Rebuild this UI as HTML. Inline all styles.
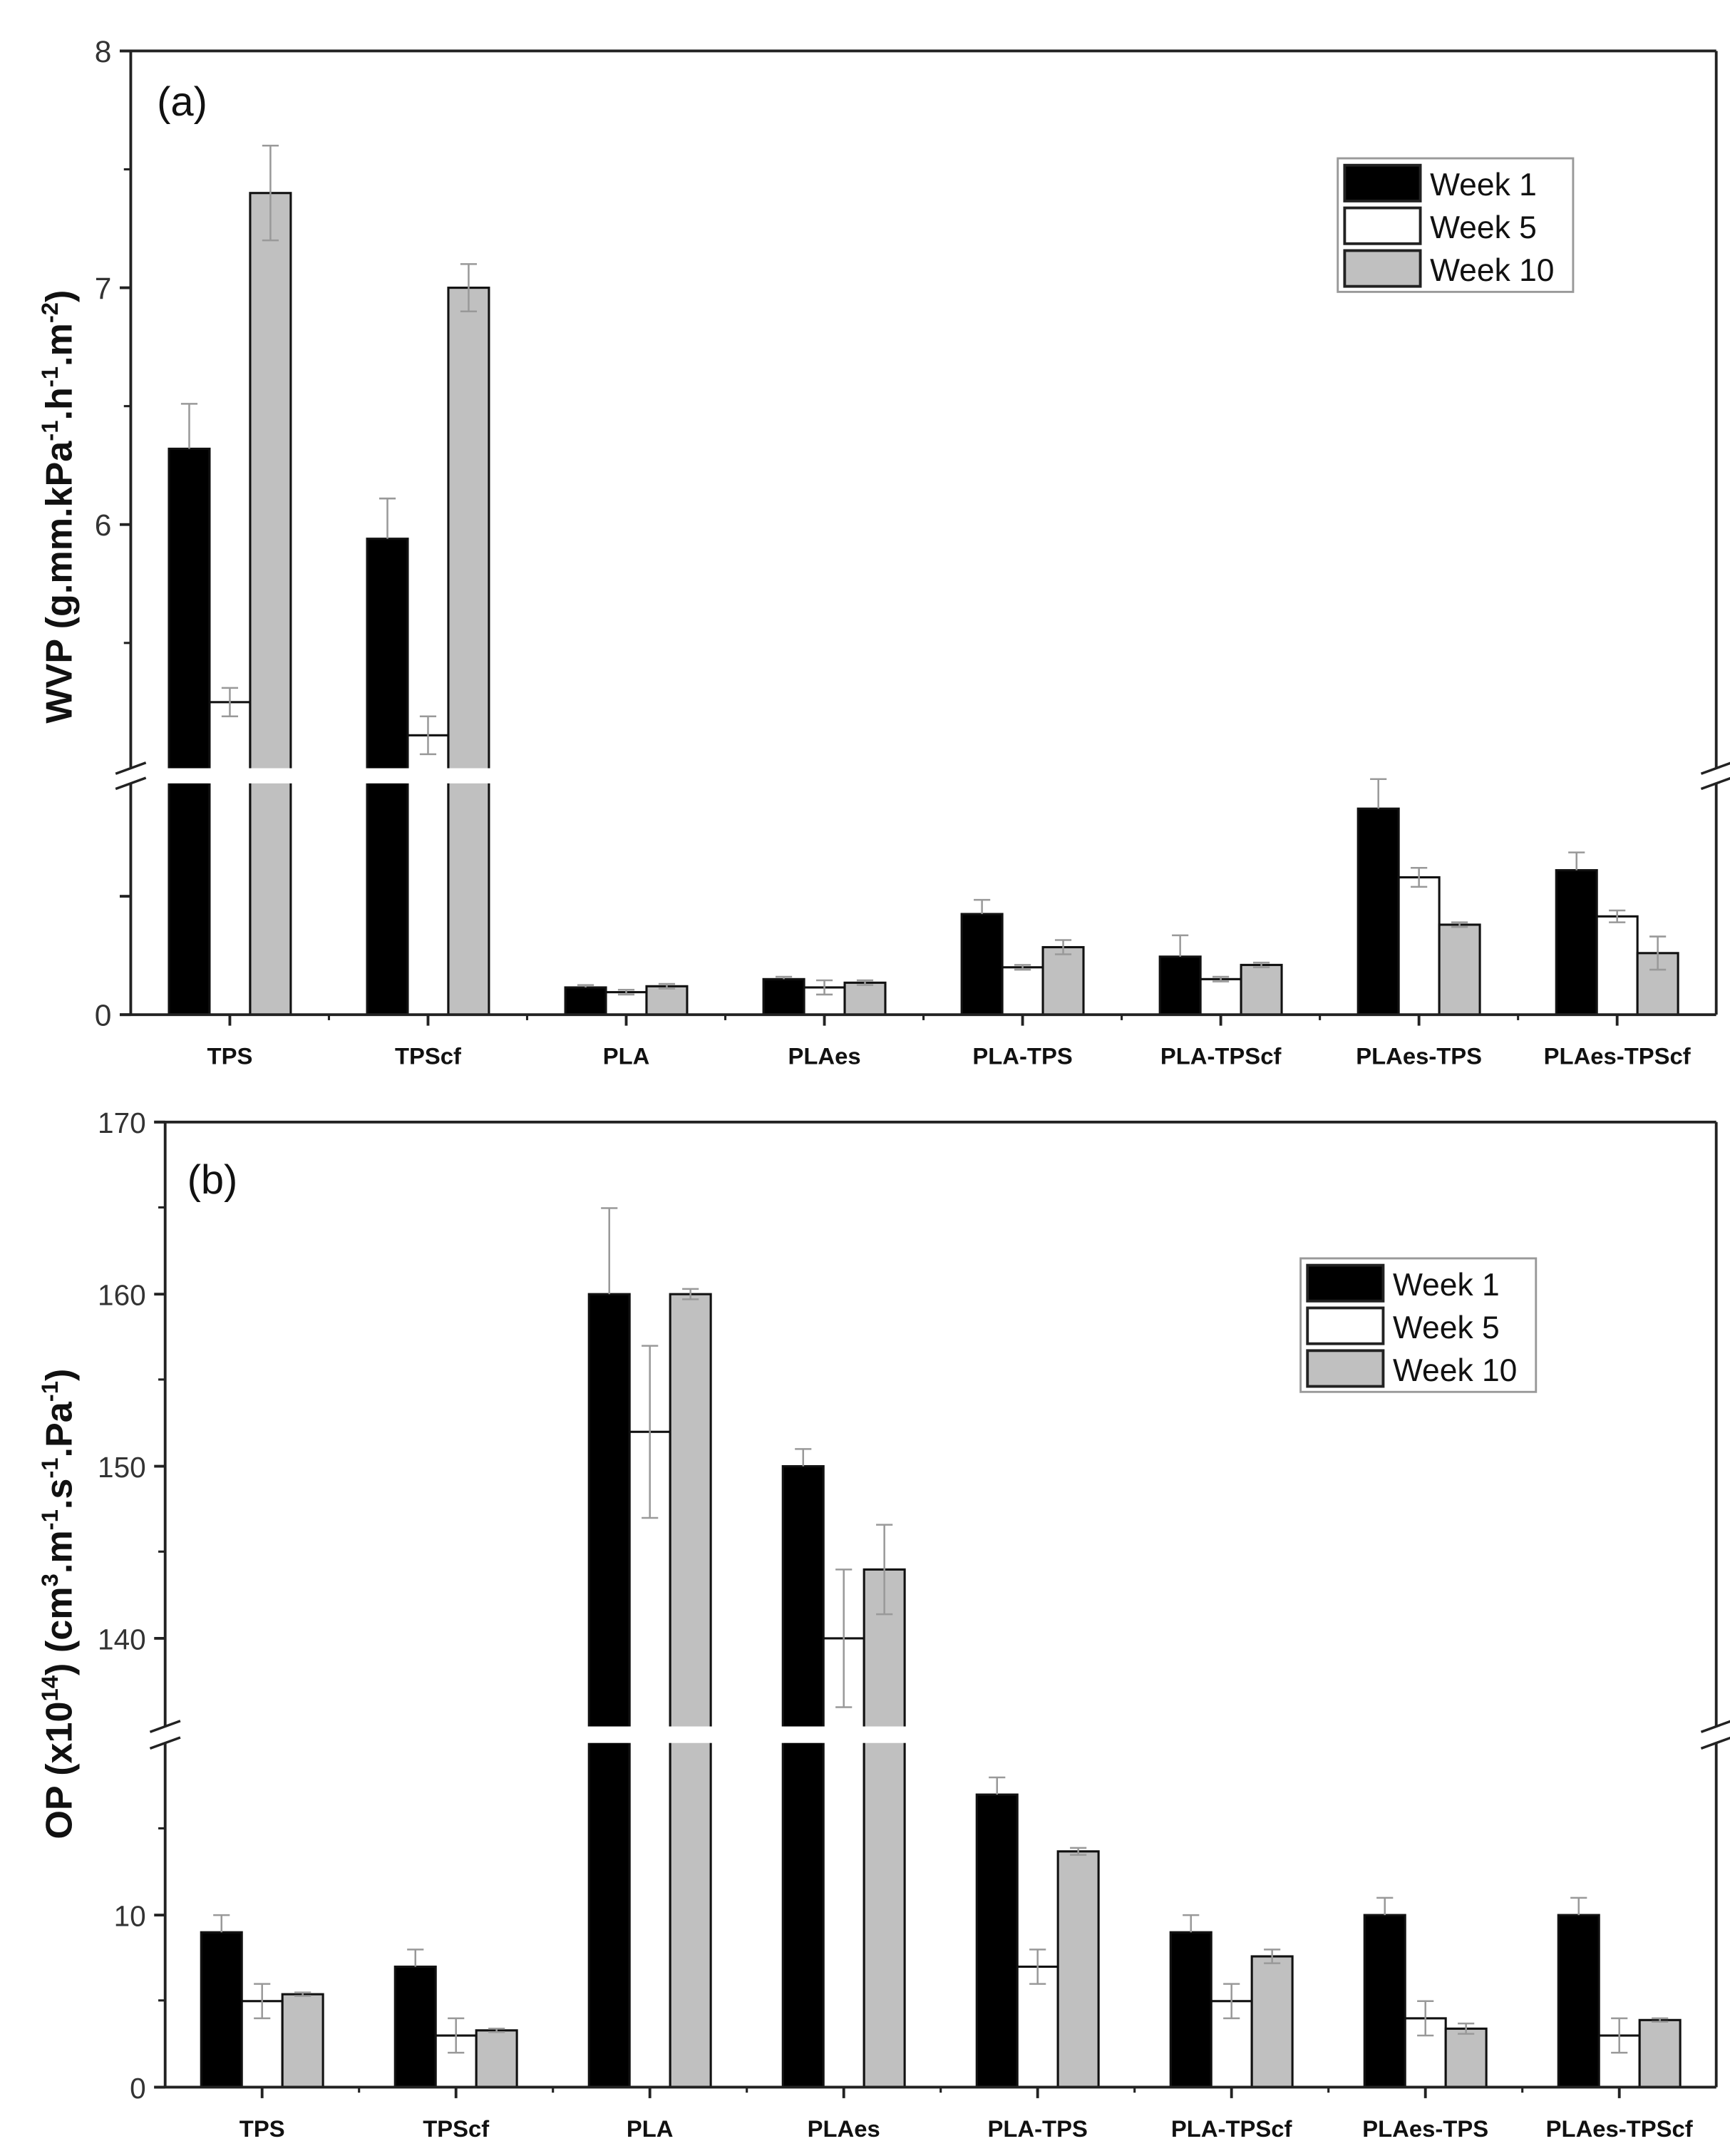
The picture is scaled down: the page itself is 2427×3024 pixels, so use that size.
<!DOCTYPE html>
<html><head><meta charset="utf-8"><style>
html,body{margin:0;padding:0;background:#fff}
svg{display:block}
text{font-family:"Liberation Sans",Arial,sans-serif}
</style></head><body>
<svg id="fig" xmlns="http://www.w3.org/2000/svg" width="2427" height="3024" viewBox="0 0 1257 1566" preserveAspectRatio="none">
</svg>
<script>
const categories=["TPS","TPScf","PLA","PLAes","PLA-TPS","PLA-TPScf","PLAes-TPS","PLAes-TPScf"];
const seriesNames=["Week 1","Week 5","Week 10"];
// Panel (a) WVP
const wvpW1=[6.32,5.94,0.23,0.30,0.85,0.49,1.74,1.22];
const wvpW5=[5.25,5.11,0.19,0.23,0.40,0.30,1.16,0.83];
const wvpW10=[7.40,7.00,0.24,0.27,0.57,0.42,0.76,0.52];
const wvpE1=[0.19,0.17,0.02,0.02,0.12,0.18,0.25,0.15];
const wvpE5=[0.06,0.08,0.02,0.06,0.02,0.02,0.08,0.05];
const wvpE10=[0.20,0.10,0.02,0.02,0.06,0.02,0.02,0.14];
const wvpTicks=["6","7","8"];
// Panel (b) OP
const opW1=[9,7,160,150,17,9,10,10];
const opW5=[5,3,152,140,7,5,4,3];
const opW10=[5.4,3.3,160,144,13.7,7.6,3.4,3.9];
const opE1=[1,1,5,1,1,1,1,1];
const opE5=[1,1,5,4,1,1,1,1];
const opE10=[0.1,0.1,0.3,2.6,0.2,0.4,0.3,0.1];
const opTicksUp=["140","150","160","170"];
const opTicksLow=["0","10"];

const NS="http://www.w3.org/2000/svg";
const svg=document.getElementById('fig');
function mk(tag,attrs,parent){const e=document.createElementNS(NS,tag);for(const k in attrs)e.setAttribute(k,attrs[k]);(parent||svg).appendChild(e);return e;}

function panel(cfg){
  const g=mk('g',{});
  
  
  const L=cfg.left,R=cfg.right,T=cfg.top,B=cfg.bottom;
  const n=categories.length,step=(R-L)/n,bw=29.5;
  const xc=i=>L+step*(i+0.5);
  const y=v=>v>cfg.lowMax? cfg.upY0-(v-cfg.upV0)*cfg.upK : B-v*cfg.lowK;
  const series=[cfg.w1,cfg.w5,cfg.w10],errs=[cfg.e1,cfg.e5,cfg.e10];
  const fills=["#000","#fff","#c0c0c0"];
  for(let s=0;s<3;s++){
    for(let i=0;i<n;i++){
      const v=series[s][i],x=xc(i)+(s-1)*bw-bw/2,yt=y(v);
      const r=mk('rect',{x:x,y:yt,width:bw,height:B-yt,fill:fills[s],stroke:"#111","stroke-width":1.6},g);
      
      
    }
  }
  const gap=mk('rect',{x:L+2,y:cfg.gapTop,width:R-L-4,height:cfg.gapBot-cfg.gapTop,fill:"#fff"},g);
  
  
  for(let s=0;s<3;s++){
    for(let i=0;i<n;i++){
      const v=series[s][i],e=errs[s][i],cx=xc(i)+(s-1)*bw;
      const y1=y(v+e),y2=s===0? y(v) : y(v-e);
      const eg=mk('g',{stroke:"#999","stroke-width":1.3},g);
      
      
      mk('line',{x1:cx,x2:cx,y1:y1,y2:y2},eg);
      mk('line',{x1:cx-6,x2:cx+6,y1:y1,y2:y1},eg);
      if(s!==0) mk('line',{x1:cx-6,x2:cx+6,y1:y2,y2:y2},eg);
    }
  }
  const fr=mk('g',{stroke:"#222","stroke-width":2,fill:"none"},g);
  
  
  mk('line',{x1:L-8,x2:R,y1:T,y2:T},fr);
  mk('line',{x1:L-8,x2:R,y1:B,y2:B},fr);
  mk('line',{x1:L,x2:L,y1:T,y2:cfg.gapTop},fr);
  mk('line',{x1:L,x2:L,y1:cfg.gapBot,y2:B},fr);
  mk('line',{x1:R,x2:R,y1:T,y2:cfg.gapTop},fr);
  mk('line',{x1:R,x2:R,y1:cfg.gapBot,y2:B},fr);
  [L,R].forEach(ax=>{
    const bm=mk('g',{stroke:"#222","stroke-width":1.8},g);
    
    
    mk('line',{x1:ax-11,x2:ax+11,y1:cfg.gapTop+4,y2:cfg.gapTop-4},bm);
    mk('line',{x1:ax-11,x2:ax+11,y1:cfg.gapBot+4,y2:cfg.gapBot-4},bm);
  });
  cfg.yticks.forEach(t=>{
    const v=parseFloat(t.label),yy=t.low? B-v*cfg.lowK : cfg.upY0-(v-cfg.upV0)*cfg.upK;
    mk('line',{x1:L-8,x2:L,y1:yy,y2:yy,stroke:"#222","stroke-width":2},g);
    if(t.show){
      const tx=mk('text',{x:L-14,y:yy+8,"text-anchor":"end","font-size":cfg.tickFs,fill:"#333"},g);
      tx.textContent=t.label;
      
      
    }
  });
  cfg.minor.forEach(yy=>mk('line',{x1:L-5,x2:L,y1:yy,y2:yy,stroke:"#222","stroke-width":1.6},g));
  for(let i=0;i<n;i++){
    mk('line',{x1:xc(i),x2:xc(i),y1:B,y2:B+8,stroke:"#222","stroke-width":2},g);
    if(i>0) mk('line',{x1:L+step*i,x2:L+step*i,y1:B,y2:B+4,stroke:"#222","stroke-width":1.6},g);
    const tx=mk('text',{x:xc(i),y:B+36,"text-anchor":"middle","font-size":17,"font-weight":"bold",fill:"#111"},g);
    tx.textContent=categories[i];
    
    
  }
  const pl=mk('text',{x:cfg.letterX,y:cfg.letterY,"font-size":30,fill:"#111"},g);
  pl.textContent=cfg.letter;
  
  
  const lg=mk('g',{},g);
  
  
  mk('rect',{x:cfg.legX,y:cfg.legY,width:171,height:97,fill:"#fff",stroke:"#999","stroke-width":1.5},lg);
  for(let s=0;s<3;s++){
    const ey=cfg.legY+3+s*31;
    const le=mk('g',{},lg);
    
    
    mk('rect',{x:cfg.legX+5,y:ey+2,width:55,height:26,fill:fills[s],stroke:"#222","stroke-width":2},le);
    const t=mk('text',{x:cfg.legX+67,y:ey+24,"font-size":23,fill:"#111"},le);
    t.textContent=seriesNames[s];
  }
  const yt=mk('text',{x:0,y:0,transform:`translate(${cfg.titleX},${cfg.titleY}) rotate(-90)`,"text-anchor":"middle","font-size":27,"font-weight":"bold",fill:"#111"},g);
  yt.innerHTML=cfg.title;
  
  
}

panel({name:'panel-a-wvp',left:95,right:1247,top:37,bottom:737,lowMax:2.06,lowK:86,upY0:381,upV0:6,upK:172,
  gapTop:558,gapBot:569,w1:wvpW1,w5:wvpW5,w10:wvpW10,e1:wvpE1,e5:wvpE5,e10:wvpE10,
  yticks:[{label:"0",low:true,show:true},{label:"1",low:true,show:false},{label:wvpTicks[0],show:true},{label:wvpTicks[1],show:true},{label:wvpTicks[2],show:true}],
  minor:[295,123,467],tickFs:22,letter:"(a)",letterX:114,letterY:84,legX:972,legY:115,
  titleX:52,titleY:368,
  title:'WVP (g.mm.kPa<tspan dy="-10" font-size="17">-1</tspan><tspan dy="10">.h</tspan><tspan dy="-10" font-size="17">-1</tspan><tspan dy="10">.m</tspan><tspan dy="-10" font-size="17">-2</tspan><tspan dy="10">)</tspan>'});

panel({name:'panel-b-op',left:120,right:1247,top:815,bottom:1516,lowMax:21,lowK:12.5,upY0:940,upV0:160,upK:12.5,
  gapTop:1254,gapBot:1266,w1:opW1,w5:opW5,w10:opW10,e1:opE1,e5:opE5,e10:opE10,
  yticks:[{label:opTicksLow[0],low:true,show:true},{label:opTicksLow[1],low:true,show:true},{label:opTicksUp[0],show:true},{label:opTicksUp[1],show:true},{label:opTicksUp[2],show:true},{label:opTicksUp[3],show:true}],
  minor:[1453,1328,1127,1002,877],tickFs:21,letter:"(b)",letterX:136,letterY:867,legX:945,legY:914,
  titleX:52,titleY:1165,
  title:'OP (x10<tspan dy="-10" font-size="17">14</tspan><tspan dy="10">) (cm</tspan><tspan dy="-10" font-size="17">3</tspan><tspan dy="10">.m</tspan><tspan dy="-10" font-size="17">-1</tspan><tspan dy="10">.s</tspan><tspan dy="-10" font-size="17">-1</tspan><tspan dy="10">.Pa</tspan><tspan dy="-10" font-size="17">-1</tspan><tspan dy="10">)</tspan>'});
</script>
</body></html>
